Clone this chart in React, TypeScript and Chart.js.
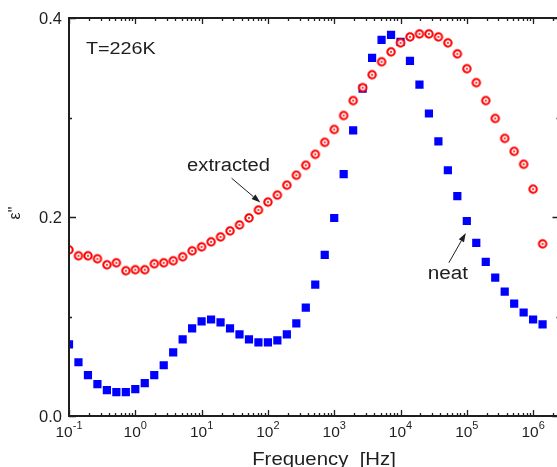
import React, { useEffect, useRef } from "react";
import { Chart, registerables } from "chart.js";

Chart.register(...registerables);

// ---- data ----
const frequencyHz = [
  0.1, 0.1389, 0.1931, 0.2683, 0.3728, 0.5179, 0.7197,
  1, 1.389, 1.931, 2.683, 3.728, 5.179, 7.197,
  10, 13.89, 19.31, 26.83, 37.28, 51.79, 71.97,
  100, 138.9, 193.1, 268.3, 372.8, 517.9, 719.7,
  1000, 1389, 1931, 2683, 3728, 5179, 7197,
  10000, 13890, 19310, 26830, 37280, 51790, 71970,
  100000, 138900, 193100, 268300, 372800, 517900, 719700,
  1000000, 1389000,
];

const neatEps = [
  0.072, 0.054, 0.041, 0.032, 0.026, 0.024, 0.024,
  0.027, 0.033, 0.041, 0.051, 0.064, 0.077, 0.088,
  0.095, 0.097, 0.094, 0.088, 0.082, 0.077, 0.074,
  0.074, 0.076, 0.082, 0.093, 0.109, 0.132, 0.162,
  0.199, 0.243, 0.287, 0.329, 0.36, 0.378, 0.383,
  0.376, 0.357, 0.333, 0.304, 0.276, 0.247, 0.221,
  0.196, 0.174, 0.155, 0.139, 0.125, 0.113, 0.104,
  0.097, 0.092,
];

const extractedEps = [
  0.167, 0.161, 0.161, 0.158, 0.152, 0.154, 0.146,
  0.147, 0.147, 0.153, 0.154, 0.156, 0.16, 0.166,
  0.17, 0.175, 0.18, 0.186, 0.192, 0.199, 0.207,
  0.215, 0.222, 0.232, 0.242, 0.252, 0.263, 0.275,
  0.288, 0.302, 0.317, 0.33, 0.343, 0.356, 0.366,
  0.375, 0.381, 0.384, 0.384, 0.381, 0.375, 0.364,
  0.349, 0.335, 0.317, 0.299, 0.279, 0.266, 0.253,
  0.228, 0.173,
];

const yMajorTicks = [0, 0.2, 0.4];
const yMajorLabels = ["0.0", "0.2", "0.4"];
const yMinorTicks = [0.1, 0.3];
const xDecadeExponents = [-1, 0, 1, 2, 3, 4, 5, 6];
const xAxisTitle = "Frequency  [Hz]";
const yAxisTitle = "ε\"";
const temperatureText = "T=226K";
const extractedText = "extracted";
const neatText = "neat";

// ---- layout / style ----
const X_MIN = 0.1;
const X_MAX = 2.5e6;
const Y_MIN = 0;
const Y_MAX = 0.4;
const FONT = "'Liberation Sans', Arial, Helvetica, sans-serif";
const INK = "#1e1e1e";
const CANVAS_W = 600;
const CANVAS_H = 467;

// annotation anchors in data coordinates
const temperatureAnchor = { x: 0.18, y: 0.368 };
const extractedAnchor = { x: 25.5, y: 0.251 };
const extractedArrow = { x0: 28.3, y0: 0.239, x1: 77, y1: 0.2145 };
const neatAnchor = { x: 51800, y: 0.143 };
const neatArrow = { x0: 53600, y0: 0.154, x1: 96600, y1: 0.184 };

function makeRingPoint(): HTMLCanvasElement {
  const c = document.createElement("canvas");
  c.width = 12;
  c.height = 12;
  const g = c.getContext("2d")!;
  g.beginPath();
  g.arc(6, 6, 3.7, 0, Math.PI * 2);
  g.fillStyle = "#ffffff";
  g.fill();
  g.lineWidth = 2.1;
  g.strokeStyle = "#ff0000";
  g.stroke();
  g.beginPath();
  g.arc(6, 6, 1.0, 0, Math.PI * 2);
  g.fillStyle = "#ff0000";
  g.fill();
  return c;
}

function stretchedText(
  ctx: CanvasRenderingContext2D,
  text: string,
  x: number,
  y: number,
  size: number,
  sx: number,
  align: CanvasTextAlign,
  baseline: CanvasTextBaseline
) {
  ctx.save();
  ctx.font = `${size}px ${FONT}`;
  ctx.textAlign = align;
  ctx.textBaseline = baseline;
  ctx.translate(x, y);
  ctx.scale(sx, 1);
  ctx.fillText(text, 0, 0);
  ctx.restore();
}

function arrow(ctx: CanvasRenderingContext2D, x0: number, y0: number, x1: number, y1: number) {
  const ang = Math.atan2(y1 - y0, x1 - x0);
  const head = 9;
  const half = 3;
  const bx = x1 - head * Math.cos(ang);
  const by = y1 - head * Math.sin(ang);
  ctx.beginPath();
  ctx.moveTo(x0, y0);
  ctx.lineTo(bx, by);
  ctx.stroke();
  ctx.beginPath();
  ctx.moveTo(x1, y1);
  ctx.lineTo(bx + half * Math.sin(ang), by - half * Math.cos(ang));
  ctx.lineTo(bx - half * Math.sin(ang), by + half * Math.cos(ang));
  ctx.closePath();
  ctx.fill();
}

const framePlugin = {
  id: "frameAndLabels",
  afterDatasetsDraw(chart: any) {
    const { ctx, chartArea: a, scales } = chart;
    const xs = scales.x;
    const ys = scales.y;
    ctx.save();
    ctx.strokeStyle = INK;
    ctx.fillStyle = INK;

    // frame
    ctx.lineWidth = 2;
    ctx.strokeRect(a.left, a.top, a.right - a.left, a.bottom - a.top);

    // x ticks (inward, top and bottom)
    ctx.lineWidth = 1.3;
    ctx.beginPath();
    for (const e of xDecadeExponents) {
      for (let m = 1; m <= 9; m++) {
        const v = m * Math.pow(10, e);
        if (v < X_MIN * 0.999 || v > X_MAX) continue;
        const px = Math.round(xs.getPixelForValue(v)) + 0.5;
        const len = m === 1 ? 6 : 3;
        ctx.moveTo(px, a.bottom);
        ctx.lineTo(px, a.bottom - len);
        ctx.moveTo(px, a.top);
        ctx.lineTo(px, a.top + len);
      }
    }
    // y ticks (inward, left and right)
    for (const v of yMajorTicks) {
      const py = Math.round(ys.getPixelForValue(v)) + 0.5;
      ctx.moveTo(a.left, py);
      ctx.lineTo(a.left + 7, py);
      ctx.moveTo(a.right, py);
      ctx.lineTo(a.right - 7, py);
    }
    for (const v of yMinorTicks) {
      const py = Math.round(ys.getPixelForValue(v)) + 0.5;
      ctx.moveTo(a.left, py);
      ctx.lineTo(a.left + 3, py);
      ctx.moveTo(a.right, py);
      ctx.lineTo(a.right - 3, py);
    }
    ctx.stroke();

    // y tick labels
    ctx.font = `16.5px ${FONT}`;
    ctx.textAlign = "right";
    ctx.textBaseline = "middle";
    yMajorTicks.forEach((v, i) => {
      ctx.fillText(yMajorLabels[i], a.left - 7, ys.getPixelForValue(v) + 1);
    });

    // x tick labels: 10^n
    for (const e of xDecadeExponents) {
      const px = xs.getPixelForValue(Math.pow(10, e));
      const base = "10";
      const sup = String(e);
      ctx.font = `15.5px ${FONT}`;
      const wb = ctx.measureText(base).width;
      ctx.font = `11px ${FONT}`;
      const wsup = ctx.measureText(sup).width;
      const left = px - (wb + wsup) / 2;
      ctx.textAlign = "left";
      ctx.textBaseline = "alphabetic";
      ctx.font = `15.5px ${FONT}`;
      ctx.fillText(base, left, a.bottom + 21);
      ctx.font = `11px ${FONT}`;
      ctx.fillText(sup, left + wb, a.bottom + 13);
    }

    // axis titles
    stretchedText(ctx, xAxisTitle, 324, 465, 18.5, 1.1, "center", "alphabetic");
    ctx.save();
    ctx.translate(16, 213);
    ctx.rotate(-Math.PI / 2);
    ctx.font = `16px ${FONT}`;
    ctx.textAlign = "center";
    ctx.textBaseline = "middle";
    ctx.fillText(yAxisTitle, 0, 0);
    ctx.restore();

    // annotations
    stretchedText(
      ctx,
      temperatureText,
      xs.getPixelForValue(temperatureAnchor.x),
      ys.getPixelForValue(temperatureAnchor.y),
      16.5,
      1.2,
      "left",
      "middle"
    );
    stretchedText(
      ctx,
      extractedText,
      xs.getPixelForValue(extractedAnchor.x),
      ys.getPixelForValue(extractedAnchor.y),
      18,
      1.12,
      "center",
      "middle"
    );
    stretchedText(
      ctx,
      neatText,
      xs.getPixelForValue(neatAnchor.x),
      ys.getPixelForValue(neatAnchor.y),
      18,
      1.15,
      "center",
      "middle"
    );
    ctx.lineWidth = 1;
    arrow(
      ctx,
      xs.getPixelForValue(extractedArrow.x0),
      ys.getPixelForValue(extractedArrow.y0),
      xs.getPixelForValue(extractedArrow.x1),
      ys.getPixelForValue(extractedArrow.y1)
    );
    arrow(
      ctx,
      xs.getPixelForValue(neatArrow.x0),
      ys.getPixelForValue(neatArrow.y0),
      xs.getPixelForValue(neatArrow.x1),
      ys.getPixelForValue(neatArrow.y1)
    );
    ctx.restore();
  },
};

export default function App() {
  const canvasRef = useRef<HTMLCanvasElement | null>(null);

  useEffect(() => {
    const canvas = canvasRef.current;
    if (!canvas) return;
    const ring = makeRingPoint();
    const chart = new Chart(canvas, {
      type: "scatter",
      data: {
        datasets: [
          {
            label: "extracted",
            data: frequencyHz.map((f, i) => ({ x: f, y: extractedEps[i] })),
            pointStyle: ring,
            pointRadius: 5,
            showLine: false,
            clip: 0,
          },
          {
            label: "neat",
            data: frequencyHz.map((f, i) => ({ x: f, y: neatEps[i] })),
            pointStyle: "rect",
            pointRadius: 5.8,
            pointBackgroundColor: "#0000ff",
            pointBorderColor: "#0000ff",
            pointBorderWidth: 0,
            showLine: false,
            clip: 0,
          },
        ],
      },
      options: {
        animation: false,
        responsive: false,
        devicePixelRatio: 1,
        layout: {
          padding: { left: 69, top: 18, right: CANVAS_W - 559.5, bottom: CANVAS_H - 416 },
        },
        plugins: {
          legend: { display: false },
          tooltip: { enabled: false },
        },
        events: [],
        scales: {
          x: { type: "logarithmic", min: X_MIN, max: X_MAX, display: false },
          y: { type: "linear", min: Y_MIN, max: Y_MAX, display: false },
        },
      },
      plugins: [framePlugin],
    });
    return () => chart.destroy();
  }, []);

  return (
    <div
      style={{
        position: "fixed",
        left: 0,
        top: 0,
        width: 557,
        height: 467,
        overflow: "hidden",
        background: "#ffffff",
      }}
    >
      <canvas ref={canvasRef} width={CANVAS_W} height={CANVAS_H} style={{ display: "block" }} />
    </div>
  );
}
